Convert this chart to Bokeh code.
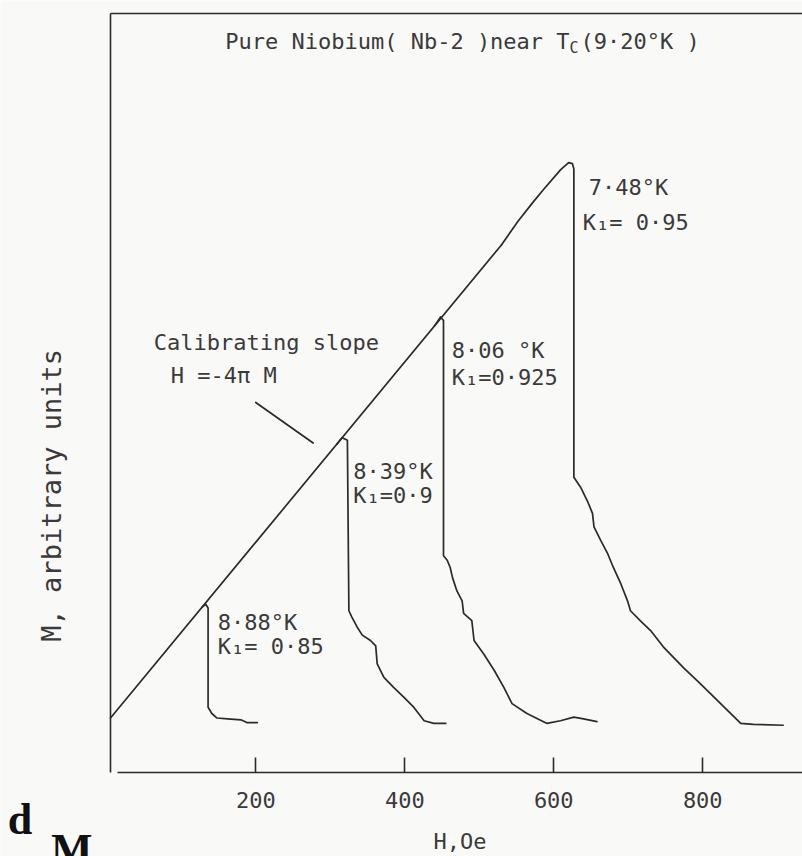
import math

from bokeh.plotting import figure
from bokeh.models import Range1d, LinearAxis, FixedTicker, Label
from bokeh.embed import file_html
from bokeh.resources import INLINE

FONT = "DejaVu Sans Mono"
INK = "#2a2a2a"
TEXT = "#3a3a3a"
PAPER = "#f9f9f7"

# Calibrating slope H = -4πM (M scaled so that the slope is unity)
calib_H = [5, 530]
calib_M = [5, 530]

# Magnetisation curves of pure Nb near Tc: H in Oe, M in arbitrary units
nb_888_H = [128, 133, 136, 136, 141, 148, 162, 180, 188, 202]
nb_888_M = [128, 131, 127, 17, 10, 5, 4, 3, 0, 0]

nb_839_H = [309, 316, 323, 325, 329, 336, 343, 354, 361, 363, 372, 385, 399, 412, 426, 439, 455]
nb_839_M = [309, 316, 313, 124, 117, 106, 97, 91, 85, 65, 50, 39, 28, 17, 2, -1, -1]

nb_806_H = [440, 448, 452, 452, 457, 461, 464, 470, 477, 479, 490, 493, 506, 520, 533, 544,
            564, 591, 609, 627, 640, 658]
nb_806_M = [440, 450, 446, 185, 180, 172, 161, 146, 135, 121, 113, 91, 76, 58, 39, 21,
            10, -1, 2, 6, 4, 1]

nb_748_H = [530, 552, 572, 586, 609, 620, 625, 627, 627, 636, 645, 652, 654, 663, 672, 680,
            690, 699, 703, 716, 730, 747, 774, 797, 824, 851, 868, 908]
nb_748_M = [530, 556, 577, 591, 613, 621, 620, 614, 272, 261, 246, 232, 217, 202, 188, 172,
            154, 135, 124, 113, 102, 84, 61, 43, 21, -1, -2, -3]

# Leader from the "Calibrating slope" note towards the line
leader_H = [200, 277]
leader_M = [355, 310]

tick_values = [200, 400, 600, 800]
tick_labels = ["200", "400", "600", "800"]

# Extent of the drawn frame in data units
H_MIN, H_MAX = 5, 934
M_MIN, M_MAX = -55.5, 786.4

p = figure(width=802, height=856,
           x_range=Range1d(-142.65, 933.9), y_range=Range1d(-148.6, 800.9),
           x_axis_location=None, y_axis_location=None,
           output_backend="svg", toolbar_location=None,
           min_border=0,
           background_fill_color=PAPER, border_fill_color=PAPER,
           outline_line_color=None)
p.grid.visible = False

# Frame: left and top edges, and the H axis with inward ticks
left = LinearAxis(fixed_location=H_MIN, bounds=(M_MIN, M_MAX),
                  ticker=FixedTicker(ticks=[]), major_tick_in=0, major_tick_out=0,
                  major_label_text_font_size="0px",
                  axis_line_color=INK, axis_line_width=1.6)
top = LinearAxis(fixed_location=M_MAX, bounds=(H_MIN, H_MAX),
                 ticker=FixedTicker(ticks=[]), major_tick_in=0, major_tick_out=0,
                 major_label_text_font_size="0px",
                 axis_line_color=INK, axis_line_width=1.6)
bottom = LinearAxis(fixed_location=M_MIN, bounds=(14, H_MAX),
                    ticker=FixedTicker(ticks=tick_values),
                    major_label_overrides={v: s for v, s in zip(tick_values, tick_labels)},
                    major_tick_in=15, major_tick_out=0,
                    major_tick_line_color=INK, major_tick_line_width=1.6,
                    axis_line_color=INK, axis_line_width=1.6,
                    major_label_text_font=FONT, major_label_text_font_size="22px",
                    major_label_text_color=TEXT, major_label_standoff=19,
                    axis_label="H,Oe", axis_label_text_font=FONT,
                    axis_label_text_font_size="22px", axis_label_text_font_style="normal",
                    axis_label_text_color=TEXT, axis_label_standoff=18)
p.add_layout(left, "left")
p.add_layout(top, "above")
p.add_layout(bottom, "below")

# Curves
line_kw = dict(line_color=INK, line_width=1.7, line_join="round", line_cap="round")
p.line(calib_H, calib_M, **line_kw)
p.line(nb_888_H, nb_888_M, **line_kw)
p.line(nb_839_H, nb_839_M, **line_kw)
p.line(nb_806_H, nb_806_M, **line_kw)
p.line(nb_748_H, nb_748_M, **line_kw)
p.line(leader_H, leader_M, **line_kw)


def note(x, y, text, size="22px", **kw):
    p.add_layout(Label(x=x, y=y, text=text, text_font=FONT, text_font_size=size,
                       text_color=TEXT, text_align=kw.get("align", "left"),
                       text_baseline=kw.get("baseline", "middle"),
                       angle=kw.get("angle", 0)))


# Title with subscripted C
note(159, 755, "Pure Niobium( Nb-2 )near T")
note(621, 748, "C", size="15px")
note(636, 755, "(9·20°K )")

# Curve annotations
note(647, 594, "7·48°K")
note(639, 555, "K₁= 0·95")
note(463, 413, "8·06 °K")
note(463, 383, "K₁=0·925")
note(331, 278, "8·39°K")
note(331, 252, "K₁=0·9")
note(149, 111, "8·88°K")
note(149, 84, "K₁= 0·85")
note(63, 421, "Calibrating slope")
note(86, 385, "H =-4π M")

# Vertical axis title
note(-74, 252, "M, arbitrary units", size="27px", align="center", angle=math.pi / 2)

# Stray page letters at the lower left
p.add_layout(Label(x=-133, y=-108, text="d", text_font="Liberation Serif",
                   text_font_size="44px", text_font_style="bold", text_color="#111111",
                   text_baseline="alphabetic"))
p.add_layout(Label(x=-75, y=-141, text="M", text_font="Liberation Serif",
                   text_font_size="44px", text_font_style="bold", text_color="#111111",
                   text_baseline="alphabetic"))

open("out.html", "w").write(file_html(p, INLINE))
